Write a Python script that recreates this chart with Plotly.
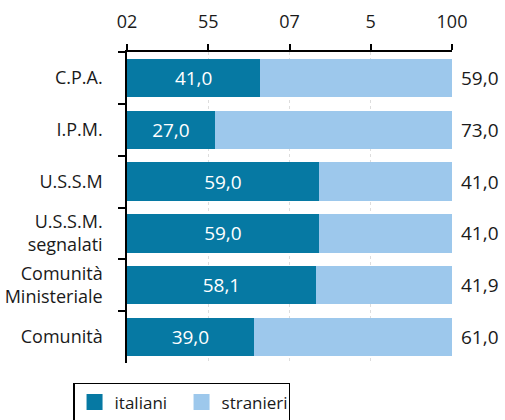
import plotly.graph_objects as go

categorie = ["C.P.A.", "I.P.M.", "U.S.S.M", "U.S.S.M.<br>segnalati",
             "Comunità<br>Ministeriale", "Comunità"]
italiani = [41.0, 27.0, 59.0, 59.0, 58.1, 39.0]
stranieri = [59.0, 73.0, 41.0, 41.0, 41.9, 61.0]
tick_vals = [0, 25, 50, 75, 100]
tick_text = ["02", "55", "07", "5", "100"]

FONT = "Open Sans, Noto Sans, sans-serif"
TESTO = "#1a1a1a"
scuro = "#0679a3"
chiaro = "#9dc8ec"

def fmt(v):
    return f"{v:.1f}".replace(".", ",")

fig = go.Figure()
fig.add_trace(go.Bar(
    y=categorie, x=italiani, orientation="h", name="italiani",
    marker=dict(color=scuro, line=dict(width=0)),
    text=[fmt(v) for v in italiani], textposition="inside",
    insidetextanchor="middle", textangle=0,
    textfont=dict(color="white", size=19, family=FONT),
    showlegend=False,
))
fig.add_trace(go.Bar(
    y=categorie, x=stranieri, orientation="h", name="stranieri",
    marker=dict(color=chiaro, line=dict(width=0)),
    showlegend=False,
))

# voci di legenda con quadrati più grandi
for nome, col in [("italiani", scuro), ("stranieri", chiaro)]:
    fig.add_trace(go.Scatter(
        x=[None], y=[None], mode="markers", name=nome,
        marker=dict(symbol="square", size=16, color=col),
    ))

# etichette degli stranieri a destra del grafico
for c, v in zip(categorie, stranieri):
    fig.add_annotation(
        x=1, xref="paper", y=c, yref="y", text=fmt(v),
        xanchor="left", xshift=7, showarrow=False,
        font=dict(size=19, color=TESTO, family=FONT),
    )

fig.update_layout(
    width=505, height=420,
    barmode="stack", bargap=0.26,
    plot_bgcolor="white", paper_bgcolor="white",
    font=dict(family=FONT, size=18, color=TESTO),
    margin=dict(l=127, r=53, t=52, b=57, autoexpand=False),
    xaxis=dict(
        side="top", range=[0, 100], tickvals=tick_vals, ticktext=tick_text,
        showline=True, linecolor="black", linewidth=1.5,
        ticks="outside", ticklen=6, tickcolor="black", tickwidth=1.5,
        showgrid=True, gridcolor="#dddddd", griddash="dot", gridwidth=1,
        zeroline=False, tickfont=dict(size=18), ticklabelstandoff=9,
        automargin=False,
    ),
    yaxis=dict(
        autorange="reversed", showline=True, linecolor="black", linewidth=1.5,
        ticks="outside", ticklen=7, tickcolor="black", tickwidth=1.5,
        tickson="boundaries", ticklabelstandoff=19,
        tickfont=dict(size=18), automargin=False,
    ),
    legend=dict(
        orientation="h", x=-0.166, xanchor="left", y=-0.064, yanchor="top",
        bordercolor="black", borderwidth=1.5,
        entrywidth=62, entrywidthmode="pixels",
        font=dict(size=17), traceorder="normal", itemsizing="trace",
    ),
    showlegend=True,
)

# niente margine del body, così il grafico parte da (0,0)
fig.write_html("out.html", config={"displayModeBar": False},
               post_script="document.body.style.margin='0';")
